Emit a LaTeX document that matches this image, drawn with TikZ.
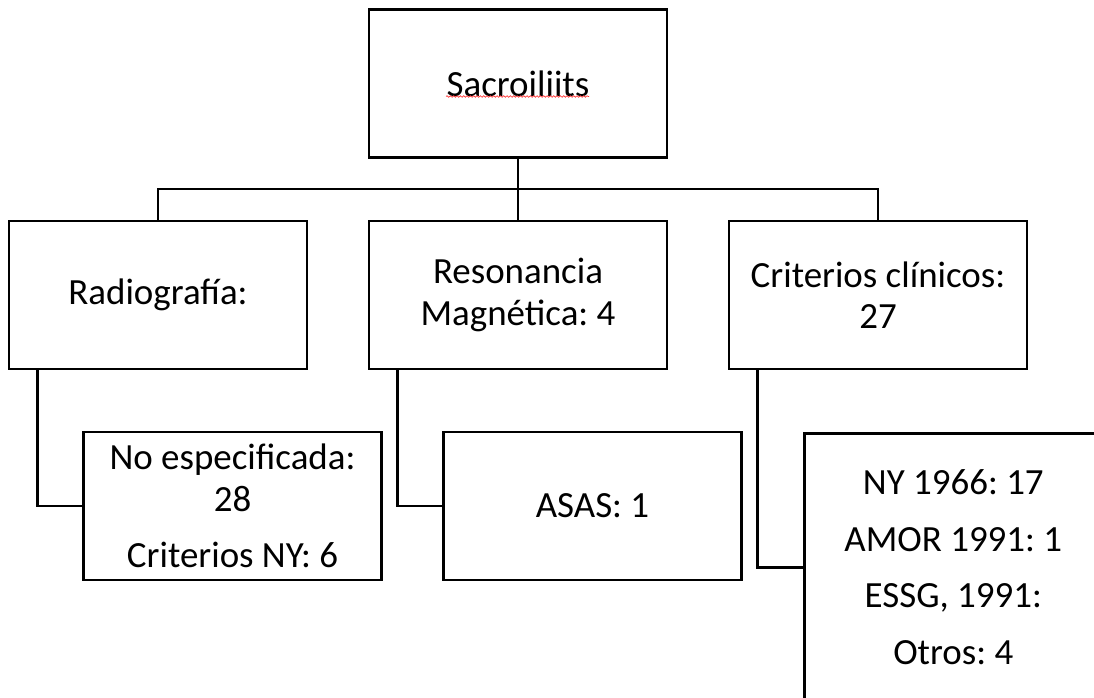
\documentclass[tikz,border=0pt]{standalone}
\usepackage{fontspec}
\setmainfont{Carlito}
\frenchspacing
\usetikzlibrary{calc,decorations.pathmorphing}
\begin{document}
\begin{tikzpicture}[x=0.75pt,y=-0.75pt,
  box/.style={draw,line width=1.9pt,inner sep=0pt,minimum width=298*0.75pt,minimum height=148*0.75pt,align=center,font=\fontsize{27.7pt}{31pt}\selectfont\frenchspacing},
  conn/.style={line width=1.9pt}]
\useasboundingbox (0,0) rectangle (1094,698);
\clip (0,0) rectangle (1094,698);
\node[box] (top) at (518,83.5) {Sacroiliits};
\node[box] (radio) at (158,295) {Radiografía:};
\node[box] (reson) at (518,295) {Resonancia\\Magnética: 4};
\node[box] (crit) at (878,295) {Criterios clínicos:\\27};
\node[box] (noesp) at (232.5,506) {No especificada:\\28\\[11.5pt]Criterios NY: 6};
\node[box] (asas) at (592.5,506) {ASAS: 1};
\node[box,anchor=north west,minimum height=268*0.75pt] (rbox) at (803,432) {NY 1966: 17\\[11.5pt]AMOR 1991: 1\\[11.5pt]ESSG, 1991:\\[11.5pt]Otros: 4};
\draw[red!80,line width=0.5pt,decorate,decoration={snake,amplitude=0.6pt,segment length=2.5pt}]
  ($(top.center)+(-72,13)$) -- ($(top.center)+(71,13)$);
\coordinate (bus) at (518,189);
\draw[conn] (top.south) -- (bus);
\draw[conn] (radio.north) |- (bus) -| (crit.north);
\draw[conn] (bus) -- (reson.north);
\draw[conn] ($(radio.south west)+(30,0)$) |- (noesp.west);
\draw[conn] ($(reson.south west)+(30,0)$) |- (asas.west);
\draw[conn] ($(crit.south west)+(30,0)$) |- (rbox.west);
\end{tikzpicture}
\end{document}
